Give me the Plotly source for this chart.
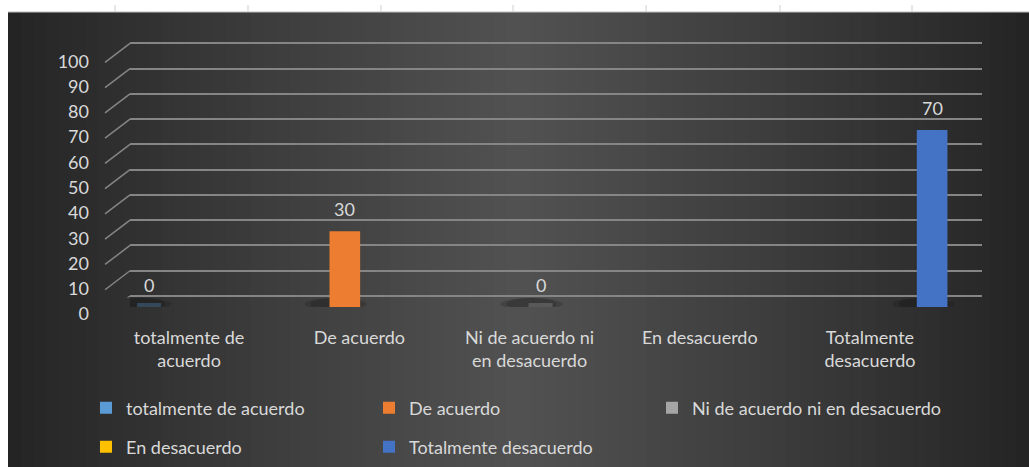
import plotly.graph_objects as go

# ---------------- data ----------------
categories = ["totalmente de acuerdo", "De acuerdo", "Ni de acuerdo ni en desacuerdo",
              "En desacuerdo", "Totalmente desacuerdo"]
tick_labels = ["totalmente de<br>acuerdo", "De acuerdo", "Ni de acuerdo ni<br>en desacuerdo",
               "En desacuerdo", "Totalmente<br>desacuerdo"]
series_names = ["totalmente de acuerdo", "De acuerdo", "Ni de acuerdo ni en desacuerdo",
                "En desacuerdo", "Totalmente desacuerdo"]
values = [0, 30, 0, None, 70]
y_ticks = [0, 10, 20, 30, 40, 50, 60, 70, 80, 90, 100]

# ---------------- style ----------------
colors = ["#5b9bd5", "#ed7d31", "#a5a5a5", "#ffc000", "#4472c4"]
legend_of = ["legend", "legend", "legend3", "legend2", "legend2"]
W, H = 1029, 467
FONT = "Lato"
FS = 18
TXT = "#d9d9d9"
GRID = "#858585"

# per-series position within a category (category units)
slot = 0.15
shift = 0.065
bar_w = 0.18

# vertical pixel geometry (back wall gridlines and bar baseline)
g0, g100 = 296.0, 43.3
ppu = (g0 - g100) / 100
pad = 0.6
bar_drop = 11
x_dom = [130 / W, 982 / W]

fig = go.Figure()

for k, name in enumerate(series_names):
    center = (k - 2) * slot + shift
    fig.add_trace(go.Bar(
        x=[categories[k]], y=[values[k]], name=name,
        marker=dict(color=colors[k], line=dict(width=0)),
        width=[bar_w], offset=[center - bar_w / 2],
        xaxis="x", yaxis="y2",
        legend=legend_of[k],
        hoverinfo="skip",
    ))

# data labels
annotations = []
for k, v in enumerate(values):
    if v is None:
        continue
    center = (k - 2) * slot + shift
    annotations.append(dict(
        x=k + center, y=v, xref="x", yref="y2", text=str(v), showarrow=False,
        yanchor="bottom", yshift=9, font=dict(family=FONT, size=FS, color=TXT)))

# background gradient strips + decorations
shapes = []
x_left = 8 / W
y_top = (H - 12) / H
N = 80
for i in range(N):
    t = (i + 0.5) / N
    b = int(36 + 46 * (1 - abs(2 * t - 1)) ** 0.9)
    x0 = x_left + (1 - x_left) * i / N
    x1 = x_left + (1 - x_left) * (i + 1) / N + 0.001
    shapes.append(dict(type="rect", xref="paper", yref="paper", x0=x0, x1=min(x1, 1.0),
                       y0=0, y1=y_top, fillcolor=f"rgb({b},{b},{b})",
                       line=dict(width=0), layer="below"))
shapes.append(dict(type="line", xref="paper", yref="paper", x0=x_left, x1=1, y0=y_top, y1=y_top,
                   line=dict(color="#bdbdbd", width=1), layer="below"))
for xm in [115, 248, 381, 513, 646, 780, 912]:
    shapes.append(dict(type="line", xref="paper", yref="paper", x0=xm / W, x1=xm / W,
                       y0=(H - 5) / H, y1=y_top, line=dict(color="#d0d0d0", width=1)))

# diagonal "3D" connectors from labels to back-wall gridlines
for v in y_ticks:
    shapes.append(dict(type="line", xref="paper", yref="y", xsizemode="pixel", ysizemode="pixel",
                       xanchor=x_dom[0], yanchor=v, x0=-25, x1=0, y0=-19, y1=0,
                       line=dict(color=GRID, width=1.5), layer="below"))

# soft floor shadows under the columns
for k, v in enumerate(values):
    if v is None:
        continue
    center = (k - 2) * slot + shift
    for dx, alpha in [(0, 0.18), (6, 0.18)]:
        shapes.append(dict(type="circle", xref="x", yref="y2", xsizemode="pixel", ysizemode="pixel",
                           xanchor=k + center, yanchor=0, x0=-40 + dx, x1=22 - dx, y0=-3, y1=9,
                           fillcolor=f"rgba(10,10,10,{alpha})", line=dict(width=0), layer="below"))
    if v == 0:
        shapes.append(dict(type="rect", xref="x", yref="y2", xsizemode="pixel", ysizemode="pixel",
                           xanchor=k + center, yanchor=0, x0=-12, x1=12, y0=0, y1=4,
                           fillcolor=colors[k], opacity=0.3, line=dict(width=0), layer="below"))

leg_common = dict(orientation="h", xanchor="left", yanchor="middle",
                  entrywidth=238, entrywidthmode="pixels", bgcolor="rgba(0,0,0,0)",
                  font=dict(family=FONT, size=FS, color=TXT), traceorder="normal")

fig.update_layout(
    width=W, height=H,
    margin=dict(l=0, r=0, t=0, b=0, autoexpand=False),
    paper_bgcolor="white", plot_bgcolor="rgba(0,0,0,0)",
    barmode="overlay",
    font=dict(family=FONT, size=FS, color=TXT),
    xaxis=dict(domain=x_dom, type="category", categoryorder="array",
               categoryarray=categories, range=[-0.347, 4.658],
               tickvals=categories, ticktext=tick_labels,
               showgrid=False, zeroline=False, showline=False, ticks="",
               ticklabelstandoff=27, anchor="y", automargin=False,
               tickfont=dict(family=FONT, size=FS, color=TXT)),
    yaxis=dict(domain=[(H - g0 - pad * ppu) / H, (H - g100 + pad * ppu) / H],
               range=[-pad, 100 + pad],
               tickvals=y_ticks, showgrid=True, gridcolor=GRID, gridwidth=1.5,
               zeroline=False, showline=False, ticks="", anchor="x", automargin=False,
               ticklabelshift=18, ticklabelstandoff=40,
               tickfont=dict(family=FONT, size=FS, color=TXT)),
    yaxis2=dict(domain=[(H - g0 - bar_drop) / H, (H - g100 - bar_drop) / H], range=[0, 100],
                visible=False, anchor="x", showgrid=False, zeroline=False, automargin=False),
    legend=dict(x=86 / W, y=(H - 408) / H, **leg_common),
    legend3=dict(x=652 / W, y=(H - 408) / H, **{**leg_common, "entrywidth": 300}),
    legend2=dict(x=86 / W, y=(H - 447) / H, **leg_common),
    shapes=shapes,
    annotations=annotations,
    showlegend=True,
)

fig.write_html("out.html")
